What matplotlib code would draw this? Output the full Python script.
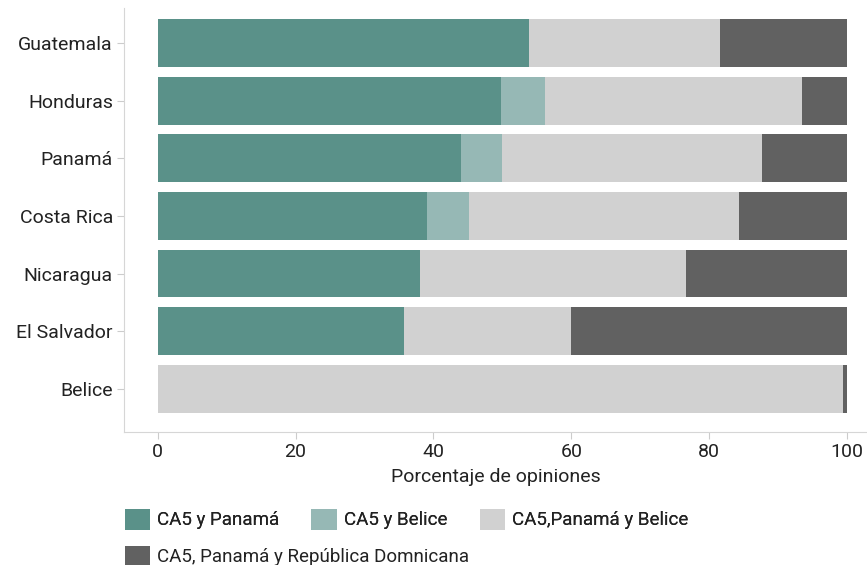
import numpy as np
import matplotlib.pyplot as plt
from matplotlib.patches import Patch

plt.rcParams['font.family'] = ['Roboto', 'DejaVu Sans']

countries = ['Guatemala', 'Honduras', 'Panamá', 'Costa Rica', 'Nicaragua', 'El Salvador', 'Belice']
series = ['CA5 y Panamá', 'CA5 y Belice', 'CA5,Panamá y Belice', 'CA5, Panamá y República Domnicana']
ca5_panama = [53.8, 49.8, 44.0, 39.0, 38.0, 35.7, 0.0]
ca5_belice = [0.0, 6.4, 5.9, 6.1, 0.0, 0.0, 0.0]
ca5_pan_bel = [27.8, 37.3, 37.8, 39.2, 38.6, 24.2, 99.4]
ca5_pan_rd = [18.4, 6.5, 12.3, 15.7, 23.4, 40.1, 0.6]
colors = ['#5a9189', '#96b8b5', '#d1d1d1', '#616161']

fig = plt.figure(figsize=(8.67, 5.65), dpi=100)
ax = fig.add_axes([124 / 867, 1 - 432 / 565, (867 - 124) / 867, (432 - 8) / 565])

y = np.arange(len(countries))
left = np.zeros(len(countries))
for vals, c in zip([ca5_panama, ca5_belice, ca5_pan_bel, ca5_pan_rd], colors):
    ax.barh(y, vals, left=left, height=0.83, color=c)
    left += np.array(vals)

ax.set_ylim(len(countries) - 1 + 0.75, -0.61)
ax.set_xlim(-4.9, 102.9)
ax.set_yticks(y)
ax.set_yticklabels(countries)
ax.set_xticks([0, 20, 40, 60, 80, 100])
ax.tick_params(axis='both', colors='#cccccc', labelcolor='#222222', labelsize=14, length=5)
ax.tick_params(axis='y', pad=3)
ax.tick_params(axis='x', pad=3)
for s in ['top', 'right']:
    ax.spines[s].set_visible(False)
for s in ['left', 'bottom']:
    ax.spines[s].set_color('#d6d6d6')
ax.set_xlabel('Porcentaje de opiniones', fontsize=14, color='#222222', labelpad=5)

handles = [Patch(facecolor=c, edgecolor='none') for c in colors]
leg_kw = dict(frameon=False, fontsize=13.5, handlelength=1.35, handleheight=1.35,
              handletextpad=0.4, borderaxespad=0, labelcolor='#222222')
leg1 = fig.legend(handles[:3], series[:3], loc='upper left', bbox_to_anchor=(117 / 867, 1 - 501 / 565),
                  ncol=3, columnspacing=1.7, **leg_kw)
leg2 = fig.legend(handles[3:], series[3:], loc='upper left', bbox_to_anchor=(117 / 867, 1 - 538 / 565),
                  ncol=1, **leg_kw)
fig.add_artist(leg1)

fig.savefig('out.png', dpi=100)
